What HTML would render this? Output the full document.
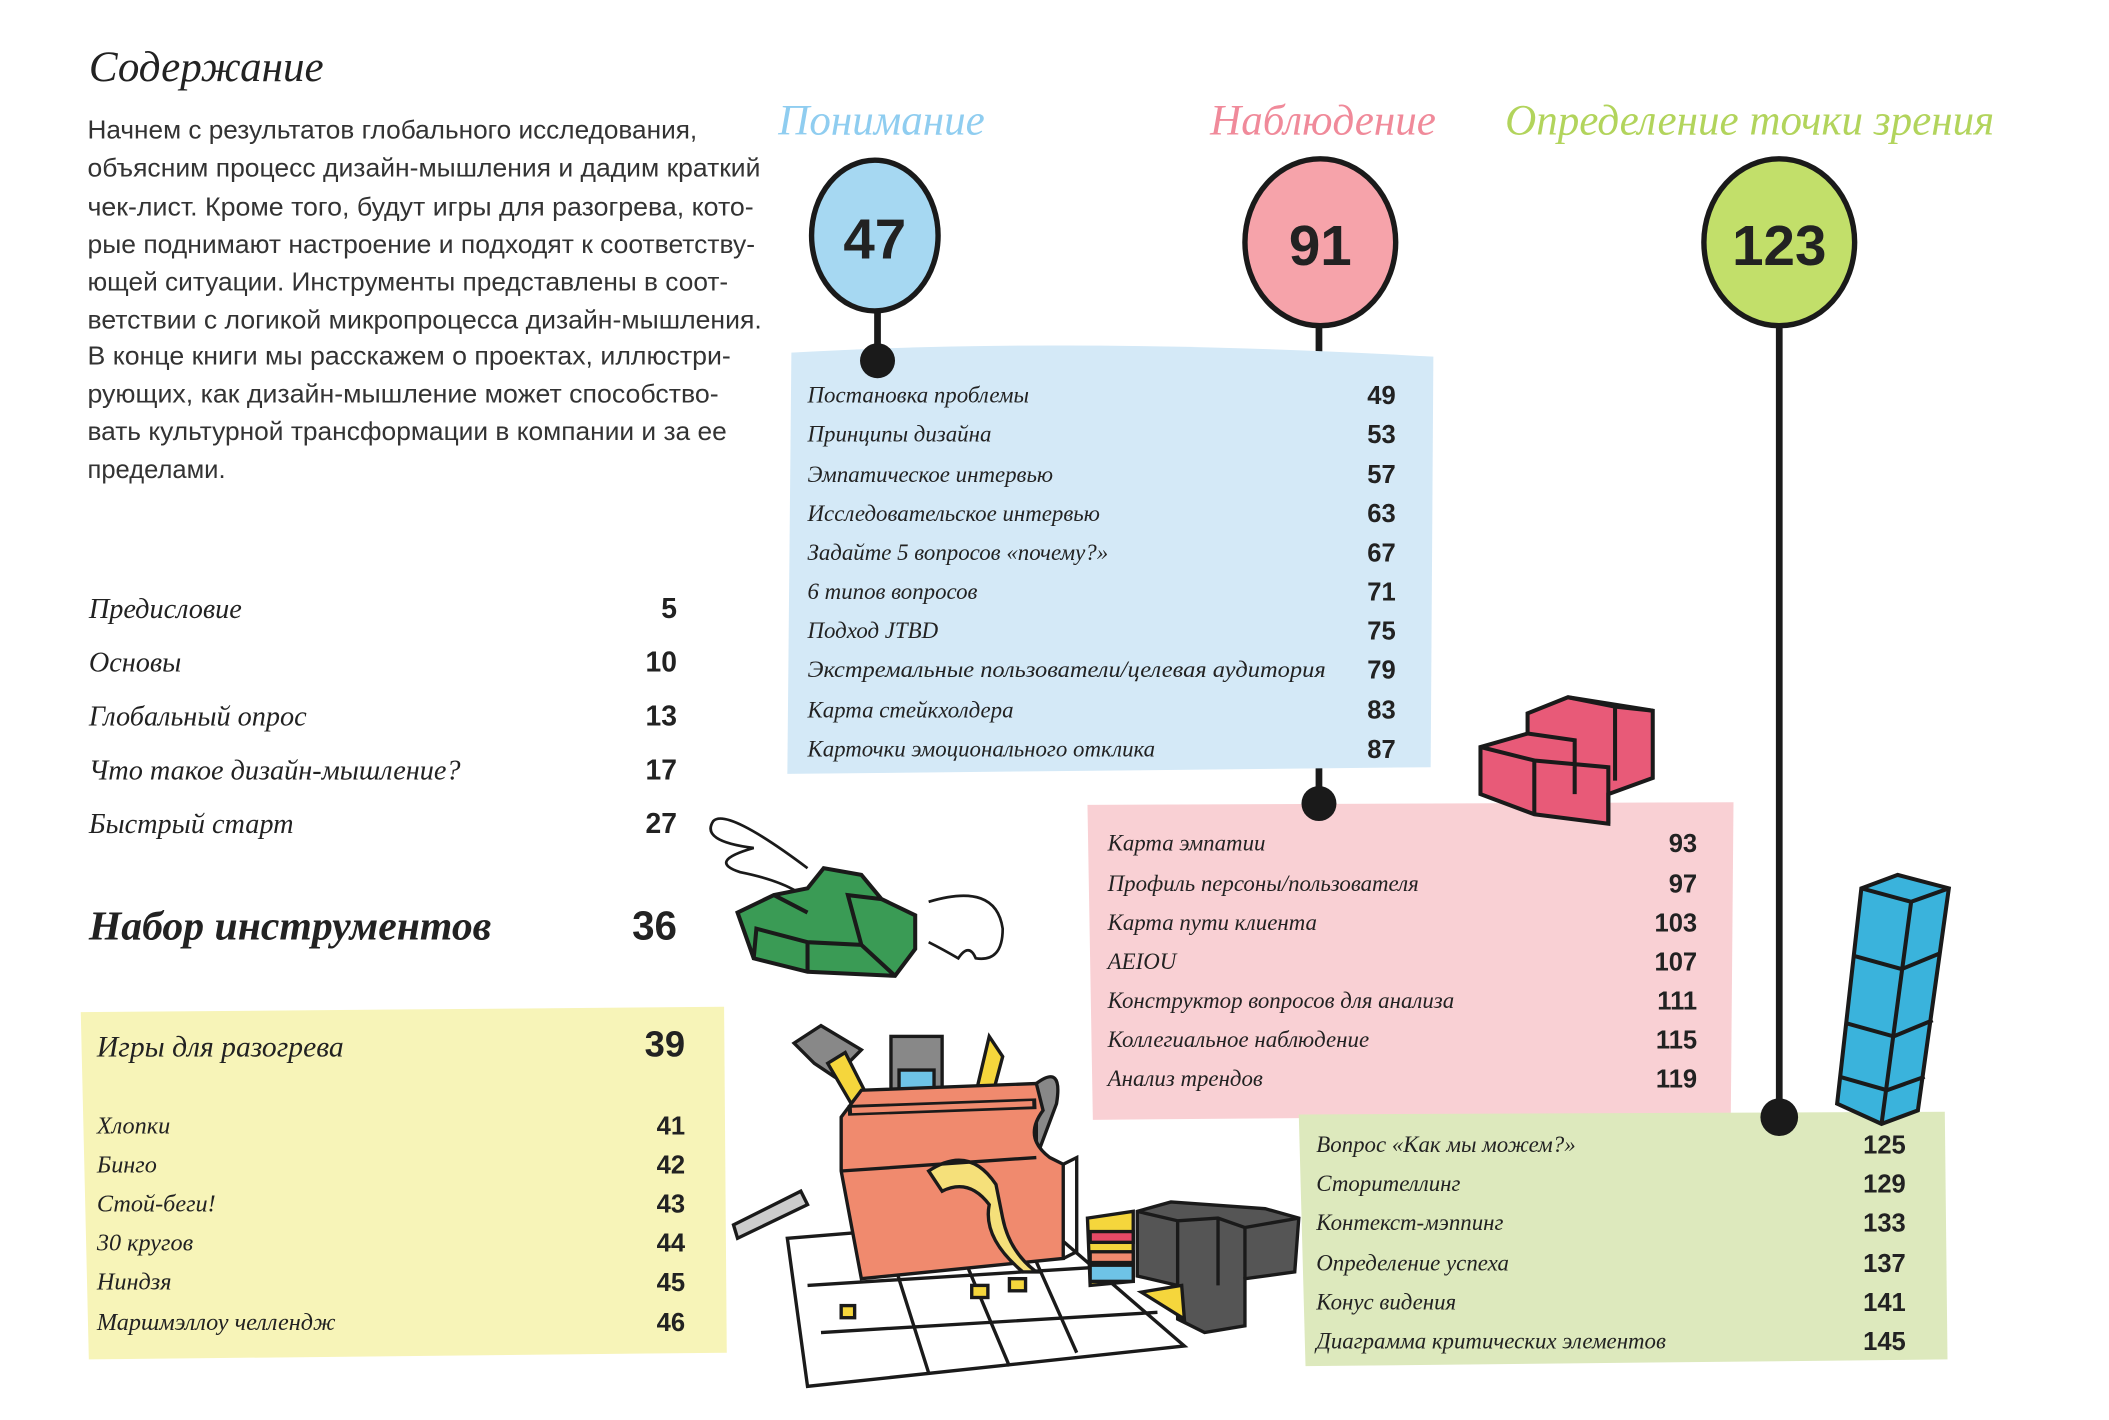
<!DOCTYPE html>
<html><head><meta charset="utf-8"><style>
html,body{margin:0;padding:0;background:#fff;}
svg{display:block;}
.p{font-family:"Liberation Sans",sans-serif;font-size:19px;fill:#333;}
.h{font-family:"Liberation Serif",serif;font-style:italic;fill:#222;}
.n{font-family:"Liberation Sans",sans-serif;font-weight:bold;fill:#222;}
</style></head><body>
<svg width="2109" height="1420" viewBox="0 0 1567 1055" preserveAspectRatio="none" xmlns="http://www.w3.org/2000/svg">
<rect width="1567" height="1055" fill="#fff"/>
<text class="h" x="66" y="60" font-size="32">Содержание</text>
<g class="p">
<text x="65" y="103" textLength="453" lengthAdjust="spacingAndGlyphs">Начнем с результатов глобального исследования,</text>
<text x="65" y="131" textLength="500" lengthAdjust="spacingAndGlyphs">объясним процесс дизайн-мышления и дадим краткий</text>
<text x="65" y="160" textLength="495" lengthAdjust="spacingAndGlyphs">чек-лист. Кроме того, будут игры для разогрева, кото-</text>
<text x="65" y="188" textLength="496" lengthAdjust="spacingAndGlyphs">рые поднимают настроение и подходят к соответству-</text>
<text x="65" y="216" textLength="476" lengthAdjust="spacingAndGlyphs">ющей ситуации. Инструменты представлены в соот-</text>
<text x="65" y="244" textLength="501" lengthAdjust="spacingAndGlyphs">ветствии с логикой микропроцесса дизайн-мышления.</text>
<text x="65" y="271" textLength="478" lengthAdjust="spacingAndGlyphs">В конце книги мы расскажем о проектах, иллюстри-</text>
<text x="65" y="299" textLength="469" lengthAdjust="spacingAndGlyphs">рующих, как дизайн-мышление может способство-</text>
<text x="65" y="327" textLength="475" lengthAdjust="spacingAndGlyphs">вать культурной трансформации в компании и за ее</text>
<text x="65" y="355">пределами.</text>
</g>
<g class="h" font-size="21">
<text x="66" y="459">Предисловие</text>
<text x="66" y="499">Основы</text>
<text x="66" y="539">Глобальный опрос</text>
<text x="66" y="579">Что такое дизайн-мышление?</text>
<text x="66" y="619">Быстрый старт</text>
</g>
<g class="n" font-size="21" text-anchor="end">
<text x="503" y="459">5</text><text x="503" y="499">10</text><text x="503" y="539">13</text><text x="503" y="579">17</text><text x="503" y="619">27</text>
</g>
<text class="h" x="66" y="698" font-size="31" font-weight="bold">Набор инструментов</text>
<text class="n" x="503" y="698" font-size="30" text-anchor="end">36</text>
<path d="M60 752 L538 748 L540 1005 L66 1010 Z" fill="#f7f4b8"/>
<text class="h" x="72" y="785" font-size="22">Игры для разогрева</text>
<text class="n" x="509" y="785" font-size="27" text-anchor="end">39</text>
<g class="h" font-size="18">
<text x="72" y="842">Хлопки</text><text x="72" y="871">Бинго</text><text x="72" y="900">Стой-беги!</text><text x="72" y="929">30 кругов</text><text x="72" y="958">Ниндзя</text><text x="72" y="988">Маршмэллоу челлендж</text>
</g>
<g class="n" font-size="19" text-anchor="end">
<text x="509" y="843">41</text><text x="509" y="872">42</text><text x="509" y="901">43</text><text x="509" y="930">44</text><text x="509" y="959">45</text><text x="509" y="989">46</text>
</g>
<text class="h" x="655" y="100" font-size="32" text-anchor="middle" style="fill:#8fcdf0">Понимание</text>
<text class="h" x="983" y="100" font-size="32" text-anchor="middle" style="fill:#f08a9a">Наблюдение</text>
<text class="h" x="1300" y="100" font-size="32" text-anchor="middle" style="fill:#b2d45c">Определение точки зрения</text>
<line x1="652" y1="225" x2="652" y2="268" stroke="#1a1a1a" stroke-width="5"/>
<line x1="980" y1="240" x2="980" y2="597" stroke="#1a1a1a" stroke-width="5"/>
<line x1="1322" y1="240" x2="1322" y2="830" stroke="#1a1a1a" stroke-width="5"/>
<path d="M588 262 Q800 250 1065 265 L1063 570 L585 575 Z" fill="#d4e9f7"/>
<circle cx="652" cy="268" r="13" fill="#1a1a1a"/>
<g class="h" font-size="17">
<text x="600" y="299">Постановка проблемы</text><text x="600" y="328">Принципы дизайна</text><text x="600" y="358">Эмпатическое интервью</text><text x="600" y="387">Исследовательское интервью</text><text x="600" y="416">Задайте 5 вопросов «почему?»</text><text x="600" y="445">6 типов вопросов</text><text x="600" y="474">Подход JTBD</text><text x="600" y="503" textLength="385" lengthAdjust="spacingAndGlyphs">Экстремальные пользователи/целевая аудитория</text><text x="600" y="533">Карта стейкхолдера</text><text x="600" y="562">Карточки эмоционального отклика</text>
</g>
<g class="n" font-size="19" text-anchor="end">
<text x="1037" y="300">49</text><text x="1037" y="329">53</text><text x="1037" y="359">57</text><text x="1037" y="388">63</text><text x="1037" y="417">67</text><text x="1037" y="446">71</text><text x="1037" y="475">75</text><text x="1037" y="504">79</text><text x="1037" y="534">83</text><text x="1037" y="563">87</text>
</g>
<path d="M808 598 L1288 596 L1286 828 L812 832 Z" fill="#f9d0d4"/>
<circle cx="980" cy="597" r="13" fill="#1a1a1a"/>
<g class="h" font-size="17">
<text x="823" y="632">Карта эмпатии</text><text x="823" y="662">Профиль персоны/пользователя</text><text x="823" y="691">Карта пути клиента</text><text x="823" y="720">AEIOU</text><text x="823" y="749">Конструктор вопросов для анализа</text><text x="823" y="778">Коллегиальное наблюдение</text><text x="823" y="807">Анализ трендов</text>
</g>
<g class="n" font-size="19" text-anchor="end">
<text x="1261" y="633">93</text><text x="1261" y="663">97</text><text x="1261" y="692">103</text><text x="1261" y="721">107</text><text x="1261" y="750">111</text><text x="1261" y="779">115</text><text x="1261" y="808">119</text>
</g>
<path d="M965 828 L1445 826 L1447 1010 L970 1015 Z" fill="#dde9bd"/>
<circle cx="1322" cy="830" r="14" fill="#1a1a1a"/>
<g class="h" font-size="17">
<text x="978" y="856">Вопрос «Как мы можем?»</text><text x="978" y="885">Сторителлинг</text><text x="978" y="914">Контекст-мэппинг</text><text x="978" y="944">Определение успеха</text><text x="978" y="973">Конус видения</text><text x="978" y="1002">Диаграмма критических элементов</text>
</g>
<g class="n" font-size="19" text-anchor="end">
<text x="1416" y="857">125</text><text x="1416" y="886">129</text><text x="1416" y="915">133</text><text x="1416" y="945">137</text><text x="1416" y="974">141</text><text x="1416" y="1003">145</text>
</g>
<ellipse cx="650" cy="175" rx="47" ry="56" fill="#a6d8f2" stroke="#1a1a1a" stroke-width="4"/>
<text class="n" x="650" y="192" font-size="42" text-anchor="middle">47</text>
<ellipse cx="981" cy="180" rx="56" ry="62" fill="#f6a3aa" stroke="#1a1a1a" stroke-width="4"/>
<text class="n" x="981" y="197" font-size="42" text-anchor="middle">91</text>
<ellipse cx="1322" cy="180" rx="56" ry="62" fill="#c2df6a" stroke="#1a1a1a" stroke-width="4"/>
<text class="n" x="1322" y="197" font-size="42" text-anchor="middle">123</text>
<g stroke="#1a1a1a" stroke-width="3" fill="#e85a78">
<path d="M1135 530 L1165 518 L1228 528 L1228 578 L1195 590 L1195 612 L1140 605 L1100 590 L1100 555 L1135 545 Z"/>
<path d="M1100 555 L1140 565 L1140 605 M1140 565 L1195 570 L1195 612 M1135 545 L1170 550 L1170 590 M1165 518 L1200 525 L1200 580 M1200 525 L1228 528" fill="none"/>
</g>
<g stroke="#1a1a1a" stroke-width="3" fill="#3ab3dc">
<path d="M1383 660 L1410 650 L1448 660 L1425 825 L1398 835 L1365 820 Z"/>
<path d="M1383 660 L1420 670 L1448 660 M1420 670 L1398 835 M1377 710 L1413 720 L1442 708 M1371 760 L1407 770 L1436 758 M1367 800 L1402 810 L1430 800" fill="none"/>
</g>
<path d="M600 645 Q540 600 530 610 Q520 625 560 630 Q525 640 550 648 Q585 655 600 668" fill="none" stroke="#1a1a1a" stroke-width="2"/>
<path d="M690 670 Q740 655 745 690 Q745 715 725 712 Q720 700 712 712 Q700 705 690 700" fill="none" stroke="#1a1a1a" stroke-width="2"/>
<g stroke="#1a1a1a" stroke-width="3" fill="#3a9b55">
<path d="M548 678 L575 665 L600 660 L612 645 L640 650 L655 668 L680 680 L680 705 L665 725 L600 722 L560 712 Z"/>
<path d="M560 712 L562 690 L600 700 L600 722 M600 700 L640 702 L665 725 M640 702 L630 665 L655 668 M575 665 L600 678" fill="none"/>
</g>
<g stroke="#1a1a1a" stroke-width="2.5">
<path d="M585 920 L770 905 L880 1000 L600 1030 Z" fill="#fff"/>
<path d="M600 955 L840 940 M610 990 L860 975 M660 925 L690 1020 M710 920 L750 1015 M760 915 L800 1005" fill="none"/>
<rect x="722" y="955" width="12" height="9" fill="#f5d63c"/><rect x="750" y="950" width="12" height="9" fill="#f5d63c"/><rect x="625" y="970" width="10" height="9" fill="#f5d63c"/>
<path d="M545 910 L595 885 L600 895 L548 920 Z" fill="#ccc"/>
<path d="M590 775 L610 762 L640 780 L620 800 L605 790 Z" fill="#888"/>
<path d="M615 790 L650 850 L660 845 L628 782 Z" fill="#f5d63c"/>
<rect x="662" y="770" width="38" height="80" fill="#888"/>
<rect x="668" y="795" width="26" height="40" fill="#6ec3e6"/>
<path d="M735 770 L745 785 L725 860 L715 855 Z" fill="#f5d63c"/>
<path d="M770 805 Q790 790 785 820 L770 860 Z" fill="#888"/>
<path d="M625 830 L640 810 L770 805 L775 825 Q760 845 780 860 L790 865 L790 935 L640 950 L625 870 Z" fill="#f08a6e"/>
<path d="M630 825 L770 820" stroke-width="8" stroke="#1a1a1a"/>
<path d="M633 825 L767 820" stroke-width="4" stroke="#f08a6e"/>
<path d="M690 870 Q720 850 740 880 L745 905 Q750 930 770 945 L760 945 Q730 920 735 895 Q720 875 700 885 Z" fill="#f5e07a"/>
<path d="M625 870 L770 860 M790 865 L800 860 L800 930 L790 935" fill="none"/>
</g>
<g stroke="#1a1a1a" stroke-width="2.5">
<path d="M808 905 L842 900 L842 952 L810 955 Z" fill="#f5d63c"/>
<rect x="810" y="915" width="32" height="8" fill="#e54a66"/><rect x="810" y="930" width="32" height="8" fill="#f08a6e"/><rect x="810" y="940" width="32" height="12" fill="#6ec3e6"/>
<path d="M845 900 L870 893 L940 898 L965 905 L962 945 L925 950 L925 985 L895 990 L875 980 L875 955 L845 948 Z" fill="#555"/>
<path d="M845 900 L875 907 L875 955 M875 907 L905 905 L925 912 L925 950 M905 905 L905 955 M925 912 L965 905" fill="none"/>
<path d="M848 960 L878 955 L880 980 Z" fill="#f5d63c"/>
</g>
</svg>
</body></html>
